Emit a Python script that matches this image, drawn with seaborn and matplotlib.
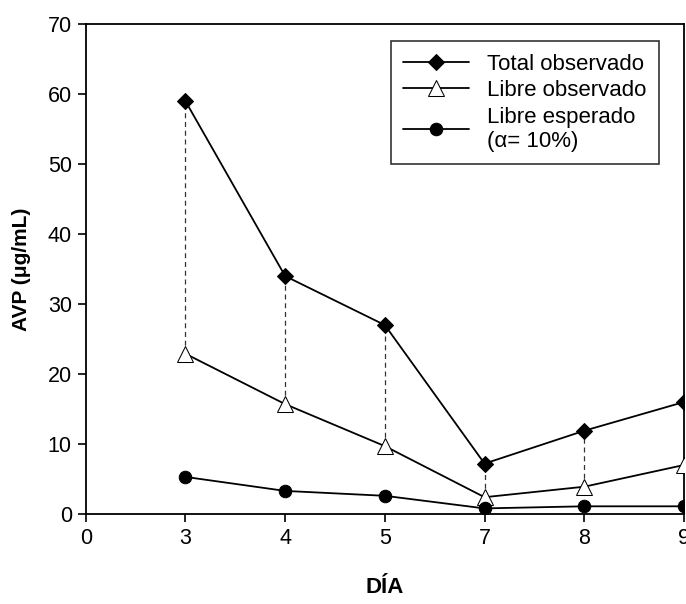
import matplotlib
matplotlib.use("Agg")
import matplotlib.pyplot as plt
import seaborn as sns
import pandas as pd

# Datos
dias = ["3", "4", "5", "7", "8", "9"]
etiquetas_x = ["0", "3", "4", "5", "7", "8", "9"]
total_observado = [59.0, 34.0, 27.0, 7.2, 11.9, 16.0]
libre_observado = [22.9, 15.7, 9.7, 2.4, 3.9, 7.0]
libre_esperado = [5.3, 3.3, 2.6, 0.8, 1.1, 1.1]

sns.set_style("ticks")
plt.rcParams["font.family"] = ["Liberation Sans", "DejaVu Sans"]
plt.rcParams["text.color"] = "black"
plt.rcParams["axes.labelcolor"] = "black"
plt.rcParams["xtick.color"] = "black"
plt.rcParams["ytick.color"] = "black"

# posicion categorica de cada dia dentro de las etiquetas del eje
pos = [etiquetas_x.index(d) for d in dias]
df = pd.DataFrame({
    "pos": pos * 3,
    "valor": total_observado + libre_observado + libre_esperado,
    "serie": (["Total observado"] * 6 + ["Libre observado"] * 6
              + ["Libre esperado\n(\u03b1= 10%)"] * 6),
})

fig = plt.figure(figsize=(6.86, 6.04), dpi=100)
ax = fig.add_axes([0.125, 0.149, 0.872, 0.811])

# lineas discontinuas entre total y libre observado
ax.vlines(pos, libre_observado, total_observado, colors="#333333",
          linestyles=(0, (4, 3)), linewidth=0.9, zorder=1)

sns.lineplot(data=df, x="pos", y="valor", hue="serie", style="serie",
             palette=["black"] * 3, markers=["D", "^", "o"], dashes=False,
             markersize=9, linewidth=1.3, ax=ax, zorder=3)

# triangulo abierto para "Libre observado"
for line in ax.lines:
    if line.get_marker() == "^":
        line.set_markerfacecolor("white")
        line.set_markersize(11)
    elif line.get_marker() == "D":
        line.set_markersize(8.5)
    line.set_markeredgecolor("black")

ax.set_xlim(0, 6)
ax.set_ylim(0, 70)
ax.set_xticks(range(len(etiquetas_x)))
ax.set_xticklabels(etiquetas_x)
ax.set_yticks(range(0, 71, 10))
ax.tick_params(axis="both", labelsize=15.5, length=6, width=1.2, direction="out", pad=4)
for s in ax.spines.values():
    s.set_linewidth(1.3)
    s.set_color("black")

ax.set_xlabel("DÍA", fontsize=16, fontweight="bold", labelpad=20)
ax.set_ylabel("AVP (\u03bcg/mL)", fontsize=15, fontweight="bold", labelpad=12)

handles, labels = ax.get_legend_handles_labels()
for h in handles:
    h.set_markeredgecolor("black")
    if h.get_marker() == "^":
        h.set_markerfacecolor("white")
leg = ax.legend(handles, labels, loc="upper right", bbox_to_anchor=(0.958, 0.965),
                borderaxespad=0, fontsize=16, frameon=True, fancybox=False,
                edgecolor="black", handlelength=3.0, labelspacing=0.25,
                borderpad=0.55, handletextpad=0.8)
leg.get_frame().set_linewidth(1.2)

fig.savefig("out.png", dpi=100)
plt.close(fig)
